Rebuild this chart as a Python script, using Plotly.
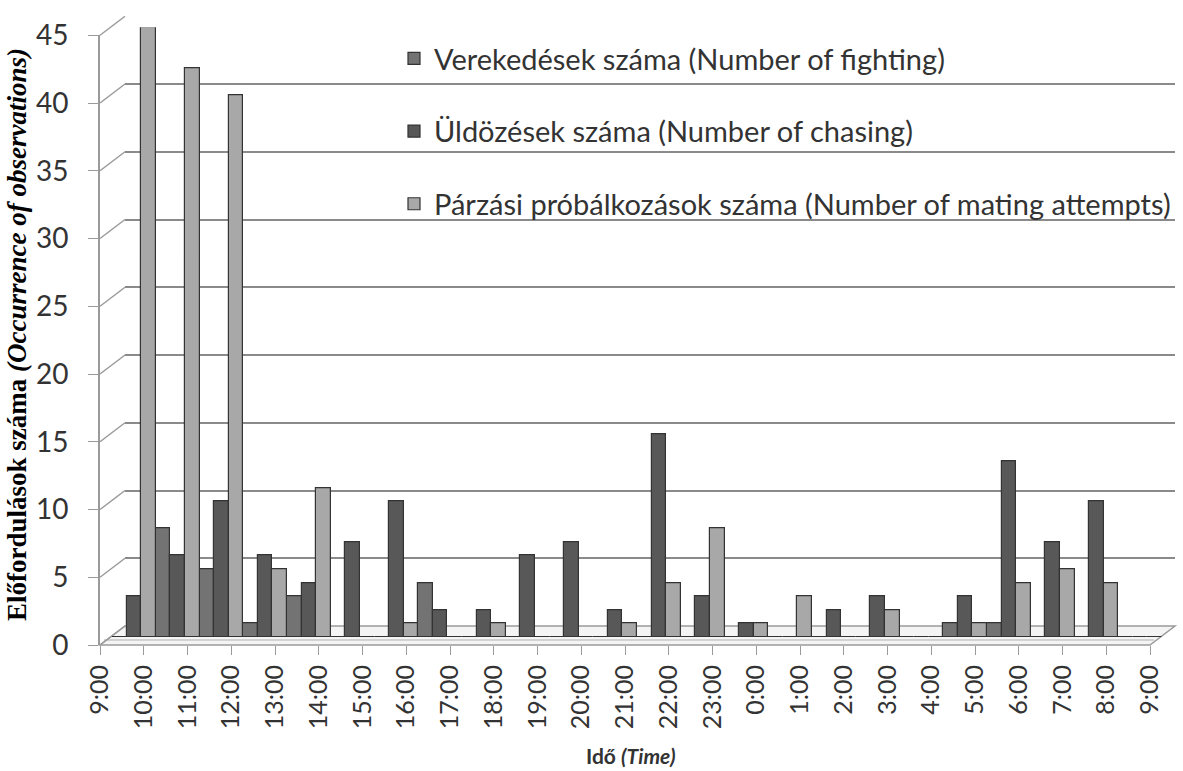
import plotly.graph_objects as go

# ---------------- data ----------------
tick_labels = ["9:00", "10:00", "11:00", "12:00", "13:00", "14:00", "15:00", "16:00",
               "17:00", "18:00", "19:00", "20:00", "21:00", "22:00", "23:00", "0:00",
               "1:00", "2:00", "3:00", "4:00", "5:00", "6:00", "7:00", "8:00", "9:00"]
intervals = [f"{a}–{b}" for a, b in zip(tick_labels[:-1], tick_labels[1:])]

fighting = [0, 8, 5, 1, 3, 0, 0, 4, 0, 0, 0, 0, 0, 0, 0, 0, 0, 0, 0, 1, 1, 0, 0, 0]
chasing = [3, 6, 10, 6, 4, 7, 10, 2, 2, 6, 7, 2, 15, 3, 1, 0, 2, 3, 0, 3, 13, 7, 10, 0]
mating = [45, 42, 40, 5, 11, 0, 1, 0, 1, 0, 0, 1, 4, 8, 1, 3, 0, 2, 0, 1, 4, 5, 4, 0]

series_names = ["Verekedések száma (Number of fighting)",
                "Üldözések száma (Number of chasing)",
                "Párzási próbálkozások száma (Number of mating attempts)"]
series_colors = ["#737373", "#585858", "#a8a8a8"]

y_ticks = [0, 5, 10, 15, 20, 25, 30, 35, 40, 45]

# ---------------- geometry (pixels) ----------------
W, H = 1183, 771
L, R, T, B = 100, 8, 14, 126
PW, PH = W - L - R, H - T - B
FRONT0 = H - B                            # front floor (y = 0) at 645
UNIT = 13.55                              # px per unit
DEPTH_X, DEPTH_Y = 25, 19                 # back wall offset
BAR_X, BAR_Y = 12, 8                      # bars at mid depth
AX_W = 1050                               # width of category axis


def px(xp):
    return (xp - L) / PW


def py(yp):
    return min(1.0, max(0.0, (FRONT0 - yp) / PH))


fig = go.Figure()

for name, vals, col in zip(series_names, [fighting, chasing, mating], series_colors):
    fig.add_trace(go.Bar(
        x=intervals, y=vals, name=name, marker_color=col,
        marker_line=dict(color="#333333", width=1.2),
        xaxis="x2", yaxis="y2", legendgroup=name,
    ))

fig.add_trace(go.Scatter(x=[0], y=[0], mode="markers", marker_opacity=0,
                         xaxis="x3", yaxis="y3", showlegend=False, hoverinfo="skip"))
fig.add_trace(go.Scatter(x=[0], y=[0], mode="markers", marker_opacity=0,
                         xaxis="x", yaxis="y", showlegend=False, hoverinfo="skip"))

top45 = 45 * UNIT
shapes = []
f_front_l, f_front_r = L, L + AX_W
shapes.append(dict(type="path", xref="paper", yref="paper",
                   path=(f"M {px(f_front_l)} {py(FRONT0)} L {px(f_front_r)} {py(FRONT0)} "
                         f"L {px(f_front_r + DEPTH_X)} {py(FRONT0 - DEPTH_Y)} "
                         f"L {px(f_front_l + DEPTH_X)} {py(FRONT0 - DEPTH_Y)} Z"),
                   fillcolor="#f4f4f4", line=dict(color="#9a9a9a", width=1.5), layer="below"))
shapes.append(dict(type="line", xref="paper", yref="paper",
                   x0=px(f_front_l + 4), y0=py(FRONT0 - 5), x1=px(f_front_r + 4), y1=py(FRONT0 - 5),
                   line=dict(color="#b0b0b0", width=1), layer="below"))
for v in y_ticks:
    yf = FRONT0 - v * UNIT
    shapes.append(dict(type="line", xref="paper", yref="paper",
                       x0=px(L), y0=py(yf), x1=px(L + DEPTH_X), y1=py(yf - DEPTH_Y),
                       line=dict(color="#9a9a9a", width=1.5), layer="below"))

fig.update_layout(
    width=W, height=H,
    margin=dict(l=L, r=R, t=T, b=B, autoexpand=False),
    paper_bgcolor="white", plot_bgcolor="rgba(0,0,0,0)",
    barmode="group", bargap=0, bargroupgap=0,
    shapes=shapes,
    xaxis=dict(domain=[px(L + DEPTH_X), 1], range=[0, 24], showgrid=False, automargin=False,
               zeroline=False, showticklabels=False, showline=False, fixedrange=True),
    yaxis=dict(domain=[py(FRONT0 - DEPTH_Y), py(FRONT0 - DEPTH_Y - top45)], range=[0, 45], dtick=5,
               showgrid=True, gridcolor="#8a8a8a", gridwidth=2, zeroline=False, automargin=False,
               showticklabels=False, showline=False, anchor="x"),
    xaxis2=dict(domain=[px(L + BAR_X), px(L + BAR_X + AX_W)], type="category",
                range=[-0.5, 23.5], showgrid=False, zeroline=False, automargin=False,
                showticklabels=False, showline=False, anchor="y2"),
    yaxis2=dict(domain=[py(FRONT0 - BAR_Y), py(FRONT0 - BAR_Y - top45)], range=[0, 45],
                showgrid=False, zeroline=False, showticklabels=False, automargin=False,
                showline=False, anchor="x2"),
    xaxis3=dict(domain=[0, px(L + AX_W)], range=[0, 24], anchor="y3", automargin=False,
                tickmode="array", tickvals=list(range(len(tick_labels))), ticktext=tick_labels,
                tickangle=-90, ticks="outside", ticklen=9, tickcolor="#9a9a9a",
                tickfont=dict(family="Lato", size=25, color="#333333"),
                showgrid=False, zeroline=False, showline=False),
    yaxis3=dict(domain=[0, py(FRONT0 - top45)], range=[0, 45], anchor="x3", automargin=False,
                tickmode="array", tickvals=y_ticks, ticks="outside", ticklen=10,
                tickcolor="#9a9a9a", ticklabelstandoff=14,
                tickfont=dict(family="Lato", size=28, color="#333333"),
                showline=True, linecolor="#9a9a9a", linewidth=2,
                showgrid=False, zeroline=False),
    legend=dict(x=px(394), y=py(33), xanchor="left", yanchor="top",
                font=dict(family="Lato", size=29, color="#333333"),
                bgcolor="rgba(0,0,0,0)", tracegroupgap=32, itemwidth=30),
    annotations=[
        dict(text="<b>Előfordulások száma <i>(Occurrence of observations)</i></b>",
             xref="paper", yref="paper", x=px(17), y=py(335), textangle=-90,
             showarrow=False, xanchor="center", yanchor="middle",
             font=dict(family="Liberation Serif", size=27, color="#000000")),
        dict(text="<b>Idő <i>(Time)</i></b>",
             xref="paper", yref="paper", x=px(631), y=(FRONT0 - 770) / PH,
             showarrow=False, xanchor="center", yanchor="bottom",
             font=dict(family="Lato", size=21, color="#333333")),
    ],
    showlegend=True,
)

fig.write_html("out.html", config={"displayModeBar": False},
               post_script="document.body.style.margin='0';")
